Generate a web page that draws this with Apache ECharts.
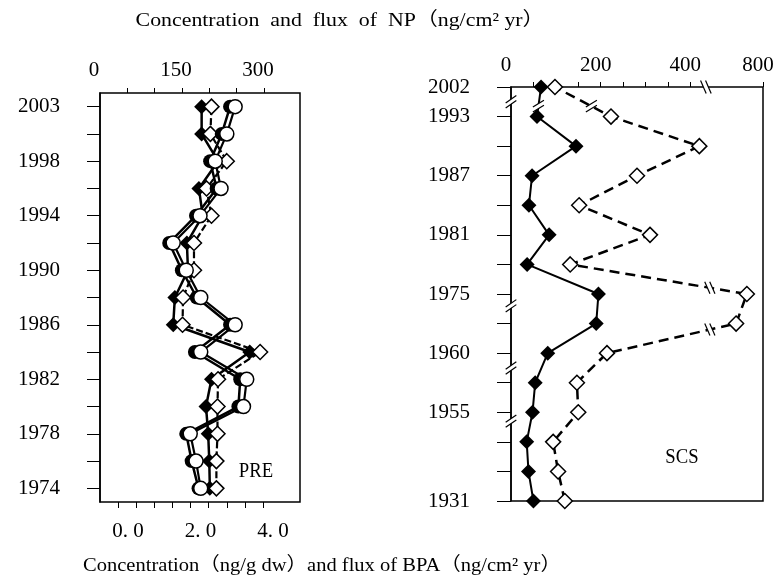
<!DOCTYPE html>
<html>
<head>
<meta charset="utf-8">
<script src="https://cdn.jsdelivr.net/npm/echarts@6/dist/echarts.min.js"></script>
<style>
html, body { margin: 0; background: #fff; }
#main { width: 780px; height: 579px; }
</style>
</head>
<body>
<div id="main"></div>
<script>
// PRE core: 15 layers, every other one labelled
var preYears = ['1974', '', '1978', '', '1982', '', '1986', '', '1990', '', '1994', '', '1998', '', '2003']
var preNPConc = [201, 200, 198, 194, 204, 274, 134, 137, 161, 159, 188, 181, 216, 186, 186]
var preNPFlux = [213, 213, 215, 215, 216, 293, 151, 152, 172, 172, 204, 195, 232, 202, 204]
var preBPAConc = [2.72, 2.53, 2.38, 3.82, 3.87, 2.62, 3.59, 2.67, 2.26, 1.91, 2.65, 3.22, 3.04, 3.36, 3.59]
var preBPAFlux = [2.78, 2.65, 2.49, 3.96, 4.05, 2.78, 3.73, 2.78, 2.38, 2.02, 2.76, 3.34, 3.18, 3.50, 3.73]

// SCS core
var scsYears = ['1931', '', '', '1955', '', '1960', '', '1975', '', '1981', '', '1987', '', '1993', '2002']
var scsNPConc = [50, 39, 35, 48, 54, 82, 190, 195, 36, 85, 40, 47, 145, 58, 67]
var scsNPFlux = [120, 105, 94, 150, 147, 214, 740, 764, 132, 310, 152, 281, 420, 223, 98]

// tick labels
var npLabels = [0, 150, 300]
var npTicks = [50, 100, 150, 200, 250, 300]
var bpaLabels = [0, 2, 4]
var bpaTicks = [0.5, 1, 1.5, 2, 2.5, 3, 3.5, 4, 4.5]
var scsLabels = [0, 200, 400, 800]
var scsTicks = [50, 100, 150, 200, 250, 300, 350, 400, 800]

// scale breaks of the SCS panel
var scsXBreak = {start: 430, end: 695}
var scsYBreaks = [2.7, 4.5, 6.6, 13.5]

var serif = "'Liberation Serif', 'Noto Sans CJK SC', serif"

var pairs = function(arr) {
    return arr.map(function(v, i) { return [v, i] })
}

var axisLineStyle = {lineStyle: {color: '#000', width: 1.5}}

var labelStyle = function(extra) {
    var s = {color: '#000', fontFamily: serif, fontSize: 21}
    for (var k in extra) { s[k] = extra[k] }
    return s
}

var element = document.querySelector('#main')
var myChart = echarts.init(element)

var option = {
    animation: false,
    grid: [
        {left: 100, right: 480, top: 93, bottom: 77, show: true, borderColor: '#000', borderWidth: 1.5},
        {left: 511, right: 17, top: 87, bottom: 78, show: true, borderColor: '#000', borderWidth: 1.5}
    ],
    xAxis: [
        {
            type: 'value', gridIndex: 0, position: 'top', min: 0, max: 366,
            axisLine: axisLineStyle,
            axisTick: {show: true, customValues: npTicks, length: 5, lineStyle: {color: '#000'}},
            axisLabel: labelStyle({customValues: npLabels, margin: 12, padding: [0, 12, 0, 0]}),
            splitLine: {show: false}
        },
        {
            type: 'value', gridIndex: 0, position: 'bottom', min: 0, max: 5.52,
            axisLine: axisLineStyle,
            axisTick: {show: true, customValues: bpaTicks, length: 6, lineStyle: {color: '#000'}},
            axisLabel: labelStyle({
                customValues: bpaLabels, margin: 19, padding: [0, 0, 0, 56],
                formatter: function(v) { return v.toFixed(1).replace('.', '. ') }
            }),
            splitLine: {show: false}
        },
        {
            type: 'value', gridIndex: 1, position: 'top', min: 0, max: 800,
            breaks: [{start: scsXBreak.start, end: scsXBreak.end, gap: 27}],
            breakArea: {show: false, itemStyle: {opacity: 0}},
            axisLine: axisLineStyle,
            axisTick: {show: true, customValues: scsTicks, length: 5, lineStyle: {color: '#000'}},
            axisLabel: labelStyle({customValues: scsLabels, margin: 11, padding: [0, 10, 0, 0]}),
            splitLine: {show: false}
        },
        {
            type: 'value', gridIndex: 1, position: 'bottom', min: 0, max: 1,
            axisLine: axisLineStyle, axisTick: {show: false}, axisLabel: {show: false},
            splitLine: {show: false}
        }
    ],
    yAxis: [
        {
            type: 'category', gridIndex: 0, data: preYears, boundaryGap: true,
            axisLine: axisLineStyle,
            axisTick: {show: true, alignWithLabel: true, interval: 0, length: 13, lineStyle: {color: '#000'}},
            axisLabel: labelStyle({interval: 0, margin: 40})
        },
        {
            type: 'category', gridIndex: 1, data: scsYears, boundaryGap: false,
            axisLine: axisLineStyle,
            axisTick: {show: true, interval: 0, length: 14, lineStyle: {color: '#000'}},
            axisLabel: labelStyle({interval: 0, margin: 41})
        }
    ],
    series: [
        {
            name: 'PRE NP concentration', type: 'line', xAxisIndex: 0, yAxisIndex: 0,
            data: pairs(preNPConc), symbol: 'diamond', symbolSize: 15,
            itemStyle: {color: '#000'}, lineStyle: {color: '#000', width: 2.5}
        },
        {
            name: 'PRE NP flux', type: 'line', xAxisIndex: 0, yAxisIndex: 0,
            data: pairs(preNPFlux), symbol: 'diamond', symbolSize: 15,
            itemStyle: {color: '#fff', borderColor: '#000', borderWidth: 1.5},
            lineStyle: {color: '#000', width: 2.2, type: [7, 3]}
        },
        {
            name: 'PRE BPA concentration', type: 'line', xAxisIndex: 1, yAxisIndex: 0,
            data: pairs(preBPAConc), symbol: 'circle', symbolSize: 14,
            itemStyle: {color: '#000'}, lineStyle: {color: '#000', width: 2.5}
        },
        {
            name: 'PRE BPA flux', type: 'line', xAxisIndex: 1, yAxisIndex: 0,
            data: pairs(preBPAFlux), symbol: 'circle', symbolSize: 14,
            itemStyle: {color: '#fff', borderColor: '#000', borderWidth: 1.5},
            lineStyle: {color: '#000', width: 2.2}
        },
        {
            name: 'SCS NP concentration', type: 'line', xAxisIndex: 2, yAxisIndex: 1,
            data: pairs(scsNPConc), symbol: 'diamond', symbolSize: 15,
            itemStyle: {color: '#000'}, lineStyle: {color: '#000', width: 2}
        },
        {
            name: 'SCS NP flux', type: 'line', xAxisIndex: 2, yAxisIndex: 1,
            data: pairs(scsNPFlux), symbol: 'diamond', symbolSize: 15,
            itemStyle: {color: '#fff', borderColor: '#000', borderWidth: 1.5},
            lineStyle: {color: '#000', width: 2.5, type: [10, 6]}
        }
    ]
}

myChart.setOption(option)

// break marks "//": white patch between two parallel strokes
var breakMark = function(cx, cy, dx, dy, ox, oy, len) {
    var h = len / 2
    var a = [cx + ox - dx * h, cy + oy - dy * h]
    var b = [cx + ox + dx * h, cy + oy + dy * h]
    var c = [cx - ox + dx * h, cy - oy + dy * h]
    var d = [cx - ox - dx * h, cy - oy - dy * h]
    return [
        {type: 'polygon', z: 100, shape: {points: [a, b, c, d]}, style: {fill: '#fff'}},
        {type: 'line', z: 101, shape: {x1: a[0], y1: a[1], x2: b[0], y2: b[1]}, style: {stroke: '#000', lineWidth: 1.2}},
        {type: 'line', z: 101, shape: {x1: d[0], y1: d[1], x2: c[0], y2: c[1]}, style: {stroke: '#000', lineWidth: 1.2}}
    ]
}

var toPx = function(v, i) {
    return myChart.convertToPixel({seriesIndex: 4}, [v, i])
}

var graphics = []
var bx = (toPx(scsXBreak.start, 0)[0] + toPx(scsXBreak.end, 0)[0]) / 2
var topY = toPx(0, scsYears.length - 1)[1]
var axisX = toPx(0, 0)[0]

// break on the top axis of SCS
graphics = graphics.concat(breakMark(bx - 4, topY, 0.4, 0.92, 2.5, 0, 14))

// breaks on the year axis of SCS
scsYBreaks.forEach(function(b) {
    var i = Math.floor(b)
    var y0 = toPx(0, i)[1]
    var y1 = toPx(0, i + 1)[1]
    var y = y0 + (y1 - y0) * (b - i)
    graphics = graphics.concat(breakMark(axisX, y, 0.82, -0.57, 0, 2.5, 13))
})

// marks where the series lines cross the breaks
;[scsNPConc, scsNPFlux].forEach(function(arr) {
    for (var i = 0; i < arr.length - 1; i++) {
        var p = toPx(arr[i], i)
        var q = toPx(arr[i + 1], i + 1)
        var lo = Math.min(arr[i], arr[i + 1])
        var hi = Math.max(arr[i], arr[i + 1])
        if (lo < scsXBreak.start && hi > scsXBreak.end) {
            var t = (bx - p[0]) / (q[0] - p[0])
            graphics = graphics.concat(breakMark(bx, p[1] + (q[1] - p[1]) * t, 0.4, 0.92, 2.5, 0, 13))
        }
    }
    var top = arr.length - 1
    var b = scsYBreaks[scsYBreaks.length - 1]
    var a0 = toPx(arr[top - 1], top - 1)
    var a1 = toPx(arr[top], top)
    var f = b - (top - 1) - 0.15
    graphics = graphics.concat(breakMark(a0[0] + (a1[0] - a0[0]) * f, a0[1] + (a1[1] - a0[1]) * f, 0.85, -0.52, 0, 2.5, 13))
})

var textEl = function(str, x, y, size, sx) {
    return {
        type: 'text', x: x, y: y, scaleX: sx, z: 110,
        style: {text: str, fill: '#000', font: size + 'px ' + serif, textAlign: 'center', textVerticalAlign: 'middle'}
    }
}

graphics.push(textEl('Concentration  and  flux  of  NP（ng/cm² yr）', 340, 21, 19, 1.15))
graphics.push(textEl('Concentration（ng/g dw）and flux of BPA（ng/cm² yr）', 322, 566, 19, 1.08))
graphics.push(textEl('PRE', 256, 471, 22, 0.85))
graphics.push(textEl('SCS', 682, 457, 22, 0.85))

myChart.setOption({graphic: graphics})
</script>
</body>
</html>
